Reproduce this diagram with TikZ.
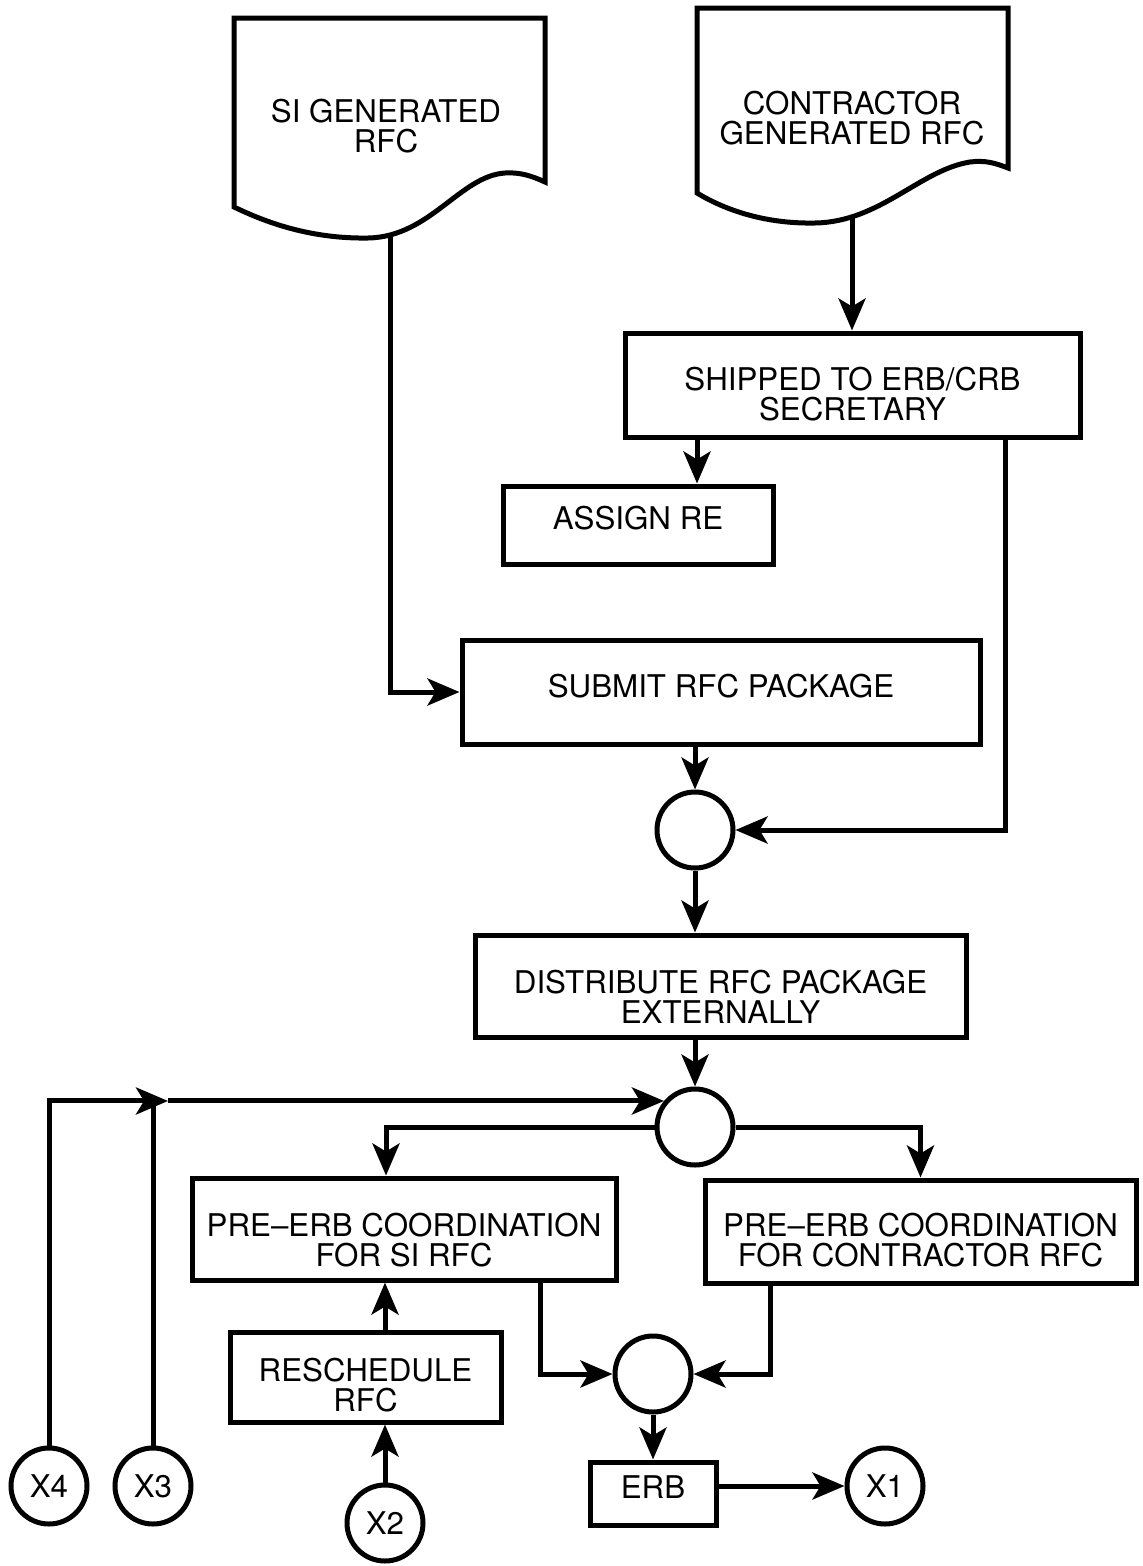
\documentclass[tikz,border=0pt]{standalone}
\usepackage{fontspec}
\setmainfont{TeX Gyre Heros}
\usetikzlibrary{arrows.meta}
\begin{document}
\begin{tikzpicture}[x=1pt,y=-1pt, line width=5pt,
  arr/.style={-{Stealth[length=32pt,width=27pt,inset=8pt]}},
  box/.style={draw, rectangle, inner sep=0pt},
  lab/.style={font=\fontsize{31.3}{30}\selectfont, align=center, inner sep=0pt},
  circ/.style={draw, circle, minimum size=76pt, inner sep=0pt, font=\fontsize{31.3}{30}\selectfont},
]
\useasboundingbox (0,0) rectangle (1143,1566);

% document shapes
\draw[line join=miter] (234,207) -- (234,18) -- (545,18) -- (545,182)
  .. controls (532,176) and (520,172) .. (505,173)
  .. controls (460,176) and (430,237) .. (368,238)
  .. controls (310,239) and (265,222) .. (234,207) -- cycle;
\node[lab] (sitext) at (386,126) {SI GENERATED\\RFC};
\coordinate (siout) at (390,234);

\draw[line join=miter] (697,193) -- (697,8) -- (1008,8) -- (1008,168)
  .. controls (995,163) and (985,160) .. (970,162)
  .. controls (920,170) and (880,222) .. (815,223)
  .. controls (765,224) and (725,210) .. (697,193) -- cycle;
\node[lab] (cotext) at (852,118) {CONTRACTOR\\GENERATED RFC};
\coordinate (coout) at (852,217);

% boxes
\node[box, minimum width=455pt, minimum height=104pt,
  label={[lab,yshift=-9.5pt]center:{SHIPPED TO ERB/CRB\\SECRETARY}}] (ship) at (852.5,385) {};
\node[box, minimum width=270pt, minimum height=78pt,
  label={[lab,yshift=7pt]center:{ASSIGN RE}}] (assign) at (638,525) {};
\node[box, minimum width=518pt, minimum height=104pt,
  label={[lab,yshift=6pt]center:{SUBMIT RFC PACKAGE}}] (submit) at (721,692) {};
\node[box, minimum width=491pt, minimum height=102pt,
  label={[lab,yshift=-11pt]center:{DISTRIBUTE RFC PACKAGE\\EXTERNALLY}}] (dist) at (720.5,986) {};
\node[box, minimum width=424pt, minimum height=102pt,
  label={[lab,yshift=-11pt]center:{PRE--ERB COORDINATION\\FOR SI RFC}}] (presi) at (404,1229) {};
\node[box, minimum width=431pt, minimum height=103pt,
  label={[lab,yshift=-8.5pt]center:{PRE--ERB COORDINATION\\FOR CONTRACTOR RFC}}] (precon) at (920.5,1231.5) {};
\node[box, minimum width=271pt, minimum height=90pt,
  label={[lab,yshift=-8pt]center:{RESCHEDULE\\RFC}}] (resched) at (365.5,1377) {};
\node[box, minimum width=126pt, minimum height=63pt,
  label={[lab,yshift=6.5pt]center:{ERB}}] (erb) at (653,1493.5) {};

% circles
\node[circ] (c1) at (695,830) {};
\node[circ] (c2) at (695,1127) {};
\node[circ] (c3) at (653,1374) {};
\node[circ] (x1) at (885,1486) {X1};
\node[circ] (x2) at (385,1523) {X2};
\node[circ] (x3) at (153,1486) {X3};
\node[circ] (x4) at (49,1486) {X4};

% connectors
\draw[arr] (coout) -- (coout |- ship.north);
\draw[arr] ([xshift=-155.5pt]ship.south) -- ([xshift=-155.5pt]ship.south |- assign.north);
\draw[arr] ([xshift=152.5pt]ship.south) |- (c1.east);
\draw[arr] (siout) |- (submit.west);
\draw[arr] (submit.south -| c1.north) -- (c1.north);
\draw[arr] (c1.south) -- (c1.south |- dist.north);
\draw[arr] (dist.south -| c2.north) -- (c2.north);
\draw[arr] (c2.west) -| ([xshift=-18pt]presi.north);
\draw[arr] (c2.east) -| (precon.north);

\coordinate (c2in) at (c2.140);
\coordinate (j) at (168,0 |- c2in);
\draw[arr] (x4.north) |- (j);
\draw[arr] (j) -- (c2in);
\draw (x3.north) -- (x3.north |- j);

\draw[arr] (x2.north) -- (x2.north |- resched.south);
\draw[arr] (x2.north |- resched.north) -- (x2.north |- presi.south);
\draw[arr] ([xshift=136pt]presi.south) |- (c3.west);
\draw[arr] ([xshift=-150.5pt]precon.south) |- (c3.east);
\draw[arr] (c3.south) -- (c3.south |- erb.north);
\draw[arr] (erb.east |- x1.west) -- (x1.west);
\end{tikzpicture}
\end{document}
